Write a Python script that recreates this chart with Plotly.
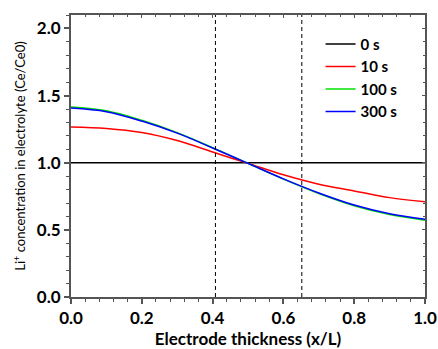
import plotly.graph_objects as go

x_pos = [0.0, 0.1, 0.2, 0.3, 0.4, 0.5, 0.6, 0.7, 0.8, 0.9, 1.0]
c_0s = [1.0, 1.0, 1.0, 1.0, 1.0, 1.0, 1.0, 1.0, 1.0, 1.0, 1.0]
c_10s = [1.266, 1.255, 1.225, 1.165, 1.08, 0.995, 0.91, 0.84, 0.79, 0.74, 0.709]
c_100s = [1.415, 1.387, 1.316, 1.224, 1.112, 0.995, 0.878, 0.771, 0.68, 0.614, 0.572]
c_300s = [1.407, 1.38, 1.31, 1.22, 1.11, 0.995, 0.88, 0.775, 0.685, 0.62, 0.578]
series_names = ["0 s", "10 s", "100 s", "300 s"]
series_colors = ["#000000", "#ff0000", "#00e000", "#0000ff"]
dashed_x = [0.408, 0.652]
x_ticks = [0.0, 0.2, 0.4, 0.6, 0.8, 1.0]
x_ticklabels = ["0.0", "0.2", "0.4", "0.6", "0.8", "1.0"]
y_ticks = [0.0, 0.5, 1.0, 1.5, 2.0]
y_ticklabels = ["0.0", "0.5", "1.0", "1.5", "2.0"]

FONT = "Lato"
AXC = "#555555"

fig = go.Figure()
for name, ys, col in zip(series_names, [c_0s, c_10s, c_100s, c_300s], series_colors):
    fig.add_trace(go.Scatter(x=x_pos, y=ys, mode="lines", name=name,
                             line=dict(color=col, width=1.5, shape="spline")))

for dx in dashed_x:
    fig.add_trace(go.Scatter(x=[dx, dx], y=[0, 2.1], mode="lines", showlegend=False,
                             line=dict(color="black", width=1, dash="4px,3px"), hoverinfo="skip"))

# overlay axes for inside ticks on top/right
fig.add_trace(go.Scatter(x=[0], y=[0], xaxis="x2", yaxis="y2", mode="markers",
                         marker=dict(opacity=0), showlegend=False, hoverinfo="skip"))

fig.update_layout(
    width=438, height=349,
    margin=dict(l=71, r=13, t=15, b=52),
    paper_bgcolor="white", plot_bgcolor="white",
    font=dict(family=FONT, color="black"),
    showlegend=True,
    legend=dict(x=0.705, y=0.955, xanchor="left", yanchor="top",
                bgcolor="rgba(0,0,0,0)", font=dict(size=15, family=FONT, weight="bold"),
                tracegroupgap=0, itemwidth=30),
    xaxis=dict(range=[0, 1], tickvals=x_ticks, ticktext=x_ticklabels, automargin=False,
               showgrid=False, zeroline=False, showline=True, linecolor=AXC, linewidth=2,
               ticks="outside", ticklen=5, tickwidth=1.5, tickcolor=AXC,
               minor=dict(dtick=0.04, ticks="outside", ticklen=3, tickcolor=AXC, tickwidth=1),
               tickfont=dict(size=17, family=FONT, weight="bold"),
               title=dict(text="Electrode thickness (x/L)", standoff=6,
                          font=dict(size=17, family=FONT, weight="bold"))),
    yaxis=dict(range=[0, 2.1], tickvals=y_ticks, ticktext=y_ticklabels, automargin=False,
               showgrid=False, zeroline=False, showline=True, linecolor=AXC, linewidth=2,
               ticks="outside", ticklen=5, tickwidth=1.5, tickcolor=AXC,
               minor=dict(dtick=0.1, ticks="outside", ticklen=3, tickcolor=AXC, tickwidth=1),
               tickfont=dict(size=17, family=FONT, weight="bold"),
               title=dict(text="Li<sup>+</sup> concentration in electrolyte (Ce/Ce0)", standoff=8,
                          font=dict(size=13, family=FONT))),
    xaxis2=dict(range=[0, 1], overlaying="x", side="top", showgrid=False, zeroline=False,
                showline=True, linecolor=AXC, linewidth=2, showticklabels=False,
                tickvals=x_ticks, ticks="inside", ticklen=3, tickcolor=AXC,
                minor=dict(dtick=0.04, ticks="inside", ticklen=2, tickcolor=AXC)),
    yaxis2=dict(range=[0, 2.1], overlaying="y", side="right", showgrid=False, zeroline=False,
                showline=True, linecolor=AXC, linewidth=2, showticklabels=False,
                tickvals=y_ticks, ticks="inside", ticklen=3, tickcolor=AXC,
                minor=dict(dtick=0.1, ticks="inside", ticklen=2, tickcolor=AXC)),
)

fig.write_html("out.html")
